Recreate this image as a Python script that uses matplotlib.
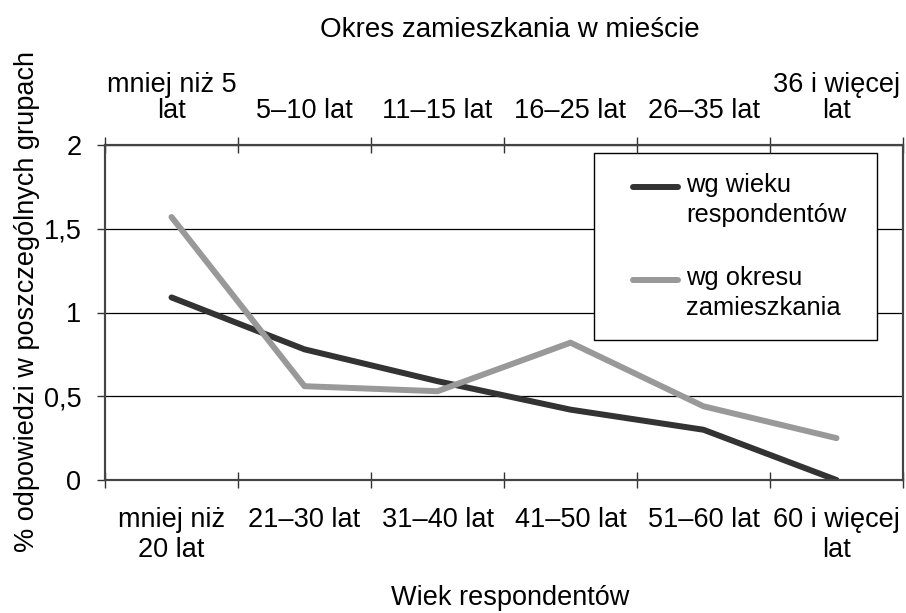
import numpy as np
import matplotlib
matplotlib.use("Agg")
import matplotlib.pyplot as plt
from matplotlib.legend_handler import HandlerLine2D
from matplotlib.ticker import FuncFormatter

# kategorie wieku (oś dolna) i okresu zamieszkania (oś górna)
wiek = ["mniej niż\n20 lat", "21–30 lat", "31–40 lat", "41–50 lat",
        "51–60 lat", "60 i więcej\nlat"]
okres = ["mniej niż 5\nlat", "5–10 lat", "11–15 lat", "16–25 lat",
         "26–35 lat", "36 i więcej\nlat"]

wg_wieku = [1.09, 0.78, 0.59, 0.42, 0.30, 0.0]
wg_okresu = [1.57, 0.56, 0.53, 0.82, 0.44, 0.25]
y_ticks = [0, 0.5, 1, 1.5, 2]

plt.rcParams['font.family'] = ['Liberation Sans', 'DejaVu Sans']
FS = 19.5


class FirstLineHandler(HandlerLine2D):
    # kreska legendy na wysokości pierwszej linii opisu
    def create_artists(self, legend, orig_handle, xdescent, ydescent,
                       width, height, fontsize, trans):
        arts = super().create_artists(legend, orig_handle, xdescent, ydescent,
                                      width, height, fontsize, trans)
        for a in arts:
            y0 = np.asarray(a.get_ydata(), float)[0] + 0.55 * fontsize
            a.set_data([width - 33, width], [y0, y0])
        return arts


fig = plt.figure(figsize=(9.06, 6.13), dpi=100)
ax = fig.add_axes([105 / 906, 133 / 613, 798 / 906, 335 / 613])

x = np.arange(len(wiek))
ax.plot(x, wg_wieku, color='#333333', lw=4.3, solid_capstyle='round',
        solid_joinstyle='round', label='wg wieku\nrespondentów', zorder=3)
ax.plot(x, wg_okresu, color='#999999', lw=4.3, solid_capstyle='round',
        solid_joinstyle='round', label='wg okresu\nzamieszkania', zorder=3)

ax.set_xlim(-0.5, len(wiek) - 0.5)
ax.set_ylim(0, 2)
ax.set_yticks(y_ticks)
ax.yaxis.set_major_formatter(FuncFormatter(lambda v, p: f"{v:g}".replace('.', ',')))
ax.grid(axis='y', color='black', lw=0.9)

ax.set_xticks(x)
ax.set_xticklabels(wiek)
ax.set_xticks(np.arange(len(wiek) + 1) - 0.5, minor=True)
ax.tick_params(axis='x', which='major', length=0, pad=19.5, labelsize=FS)
ax.tick_params(axis='x', which='minor', direction='inout', length=11.5,
               width=1, color='#333333')
ax.tick_params(axis='y', direction='out', length=6, width=1, pad=11,
               labelsize=FS, color='#333333')
for t in ax.get_xticklabels():
    t.set_linespacing(1.2)

top = ax.twiny()
top.set_xlim(ax.get_xlim())
top.set_xticks(x)
top.set_xticklabels(okres)
top.set_xticks(np.arange(len(okres) + 1) - 0.5, minor=True)
top.tick_params(axis='x', which='major', length=0, pad=15, labelsize=FS)
top.tick_params(axis='x', which='minor', direction='inout', length=11.5,
                width=1, color='#333333')
for t in top.get_xticklabels():
    t.set_linespacing(1.0)

for a in (ax, top):
    for s in a.spines.values():
        s.set_color('#444444')
        s.set_linewidth(1.5)

leg = ax.legend(loc='upper left', bbox_to_anchor=(0.6128, 0, 0.3546, 0.976),
                mode='expand', borderaxespad=0, fontsize=18.4,
                borderpad=0.8, handlelength=2.5, handletextpad=0.3,
                labelspacing=1.55, fancybox=False, framealpha=1,
                edgecolor='black', facecolor='white',
                handler_map={matplotlib.lines.Line2D: FirstLineHandler()})
leg.get_frame().set_linewidth(1)
for t in leg.get_texts():
    t.set_linespacing(1.28)

fig.text(510 / 906, (613 - 37) / 613, "Okres zamieszkania w mieście",
         ha='center', va='baseline', fontsize=20)
fig.text(510 / 906, 8 / 613, "Wiek respondentów",
         ha='center', va='baseline', fontsize=FS)
fig.text(34 / 906, 312 / 613, "% odpowiedzi w poszczególnych grupach",
         ha='center', va='baseline', rotation=90, rotation_mode='anchor',
         fontsize=FS)

fig.savefig("out.png", dpi=100)
